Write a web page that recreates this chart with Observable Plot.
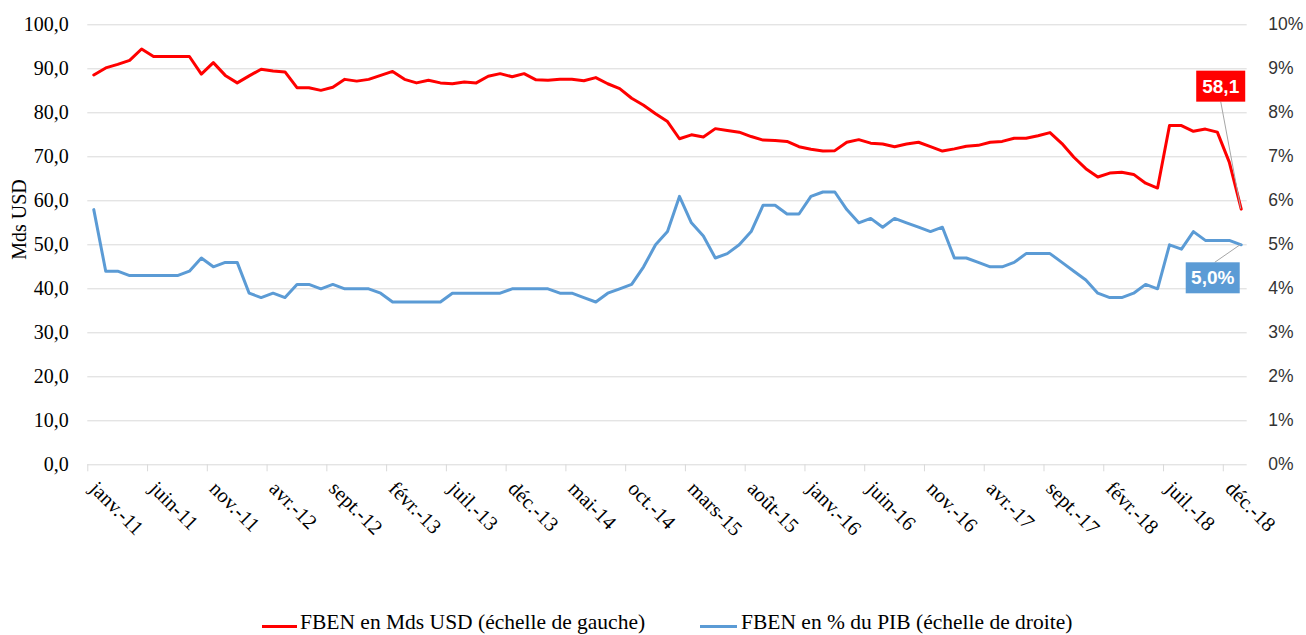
<!DOCTYPE html>
<html>
<head>
<meta charset="utf-8">
<script src="https://cdn.jsdelivr.net/npm/d3@7"></script>
<script src="https://cdn.jsdelivr.net/npm/@observablehq/plot@0.6"></script>
<style>
  html, body { margin: 0; padding: 0; background: #fff; }
  #chart svg { display: block; }
  #legend { position: relative; height: 25px; font-family: "Liberation Serif", "Times New Roman", serif; font-size: 21.5px; color: #000; overflow: hidden; }
  .sw { position: absolute; top: 15px; height: 3px; }
  .lt { position: absolute; top: -3px; line-height: 30px; white-space: nowrap; }
</style>
</head>
<body>
<div id="chart"></div>
<div id="legend"></div>
<script>
// ---- Data (monthly, janv.-11 .. janv.-19) ----
const fbenUsd = [
  88.6, 90.2, 91.0, 91.9, 94.5, 92.8, 92.8, 92.8, 92.8, 88.8, 91.4, 88.5,
  86.8, 88.4, 89.9, 89.5, 89.3, 85.7, 85.7, 85.1, 85.8, 87.6, 87.2, 87.6,
  88.5, 89.4, 87.6, 86.8, 87.4, 86.8, 86.6, 87.0, 86.8, 88.3, 88.9, 88.2,
  88.9, 87.5, 87.4, 87.6, 87.6, 87.3, 88.0, 86.6, 85.5, 83.3, 81.7, 79.8,
  78.0, 74.1, 75.0, 74.5, 76.4, 76.0, 75.6, 74.6, 73.8, 73.7, 73.5, 72.3,
  71.7, 71.3, 71.4, 73.3, 73.9, 73.1, 72.9, 72.3, 72.9, 73.3, 72.3, 71.3,
  71.8, 72.4, 72.6, 73.3, 73.5, 74.2, 74.2, 74.8, 75.5, 73.0, 69.9, 67.3,
  65.4, 66.3, 66.5, 66.0, 64.0, 62.9, 77.1, 77.1, 75.8, 76.3, 75.6, 68.8,
  58.1
];
const fbenPib = [
  5.8, 4.4, 4.4, 4.3, 4.3, 4.3, 4.3, 4.3, 4.4, 4.7, 4.5, 4.6,
  4.6, 3.9, 3.8, 3.9, 3.8, 4.1, 4.1, 4.0, 4.1, 4.0, 4.0, 4.0,
  3.9, 3.7, 3.7, 3.7, 3.7, 3.7, 3.9, 3.9, 3.9, 3.9, 3.9, 4.0,
  4.0, 4.0, 4.0, 3.9, 3.9, 3.8, 3.7, 3.9, 4.0, 4.1, 4.5, 5.0,
  5.3, 6.1, 5.5, 5.2, 4.7, 4.8, 5.0, 5.3, 5.9, 5.9, 5.7, 5.7,
  6.1, 6.2, 6.2, 5.8, 5.5, 5.6, 5.4, 5.6, 5.5, 5.4, 5.3, 5.4,
  4.7, 4.7, 4.6, 4.5, 4.5, 4.6, 4.8, 4.8, 4.8, 4.6, 4.4, 4.2,
  3.9, 3.8, 3.8, 3.9, 4.1, 4.0, 5.0, 4.9, 5.3, 5.1, 5.1, 5.1,
  5.0
];
const tickLabels = [
  "janv.-11", "juin-11", "nov.-11", "avr.-12", "sept.-12", "févr.-13", "juil.-13",
  "déc.-13", "mai-14", "oct.-14", "mars-15", "août-15", "janv.-16", "juin-16",
  "nov.-16", "avr.-17", "sept.-17", "févr.-18", "juil.-18", "déc.-18"
];
const labelStep = 5;
const leftTicks = [0, 10, 20, 30, 40, 50, 60, 70, 80, 90, 100];
const rightTicks = [0, 1, 2, 3, 4, 5, 6, 7, 8, 9, 10];
const seriesNames = ["FBEN en Mds USD (échelle de gauche)", "FBEN en % du PIB (échelle de droite)"];
const colors = ["#ff0000", "#5b9bd5"];
const lastUsdLabel = "58,1";
const lastPibLabel = "5,0%";

// ---- Derived tables ----
const n = fbenUsd.length;
const usdRows = fbenUsd.map((v, i) => ({i, v}));
const pibRows = fbenPib.map((v, i) => ({i, v: v * 10})); // right axis mapped onto 0-100
const labelIdx = tickLabels.map((_, k) => k * labelStep);
const tickPos = tickLabels.map((_, k) => k * labelStep - 0.5);

const serif = "'Liberation Serif', 'Times New Roman', serif";
const sans = "'Liberation Sans', Arial, sans-serif";

const plot = Plot.plot({
  width: 1306,
  height: 610,
  marginLeft: 87.3,
  marginRight: 59.3,
  marginTop: 24.3,
  marginBottom: 145.7,
  style: {background: "#fff", color: "#000"},
  x: {domain: [-0.5, n - 0.5], axis: null},
  y: {domain: [0, 100], axis: null},
  marks: [
    Plot.ruleY(leftTicks, {stroke: "#d9d9d9", strokeWidth: 1}),
    Plot.axisX(tickPos, {tickSize: 7, tickFormat: () => "", stroke: "#d9d9d9", label: null}),
    Plot.axisY(leftTicks, {anchor: "left", tickSize: 0, tickPadding: 19, label: null,
      tickFormat: d => d.toFixed(1).replace(".", ","), fontSize: 20, fontFamily: serif, fill: "#000"}),
    Plot.axisY(rightTicks.map(d => d * 10), {anchor: "right", tickSize: 0, tickPadding: 21, label: null,
      tickFormat: d => (d / 10) + "%", fontSize: 17.5, fontFamily: sans, fill: "#333"}),
    Plot.text(labelIdx, {x: d => d, y: 0, text: (d, k) => tickLabels[k], rotate: 45,
      textAnchor: "start", lineAnchor: "bottom", dx: -5, dy: 25,
      fontSize: 20.5, fontFamily: serif, fill: "#000"}),
    Plot.text(["Mds USD"], {frameAnchor: "left", dx: -68, dy: 15, rotate: -90,
      fontSize: 20, fontFamily: serif, fill: "#000"}),
    Plot.line(pibRows, {x: "i", y: "v", stroke: colors[1], strokeWidth: 3, strokeLinejoin: "round"}),
    Plot.line(usdRows, {x: "i", y: "v", stroke: colors[0], strokeWidth: 3, strokeLinejoin: "round"})
  ]
});

document.getElementById("chart").appendChild(plot);

// ---- Data labels with leader lines (positioned from scales) ----
const sx = plot.scale("x"), sy = plot.scale("y");
const X = v => sx.apply(v), Y = v => sy.apply(v);
const svg = d3.select(plot);
const ann = svg.append("g");

function boxLabel(text, fill, px, py, cx, top, w, h, lx, ly) {
  ann.append("line").attr("x1", lx).attr("y1", ly).attr("x2", px).attr("y2", py)
    .attr("stroke", "#a6a6a6").attr("stroke-width", 1);
  ann.append("rect").attr("x", cx - w / 2).attr("y", top).attr("width", w).attr("height", h).attr("fill", fill);
  ann.append("text").attr("x", cx).attr("y", top + h / 2).attr("dy", "0.35em")
    .attr("text-anchor", "middle").attr("fill", "#fff").attr("font-weight", "bold")
    .attr("font-family", sans).attr("font-size", 19).text(text);
}
const lastI = n - 1;
{
  const px = X(lastI), py = Y(fbenUsd[lastI]);
  const cx = px - 20, top = py - 138, h = 31;
  boxLabel(lastUsdLabel, colors[0], px, py, cx, top, 49, h, cx, top + h);
}
{
  const px = X(lastI), py = Y(fbenPib[lastI] * 10);
  const cx = px - 28, top = py + 18, h = 31;
  boxLabel(lastPibLabel, colors[1], px, py, cx, top, 54, h, cx + 2, top);
}
ann.raise();

// ---- Legend (below the SVG) ----
const legend = d3.select("#legend");
const items = [{x: 262, w: 35, tx: 300}, {x: 700, w: 37, tx: 741}];
items.forEach((it, k) => {
  legend.append("div").attr("class", "sw").style("left", it.x + "px").style("width", it.w + "px").style("background", colors[k]);
  legend.append("div").attr("class", "lt").style("left", it.tx + "px").text(seriesNames[k]);
});
</script>
</body>
</html>
